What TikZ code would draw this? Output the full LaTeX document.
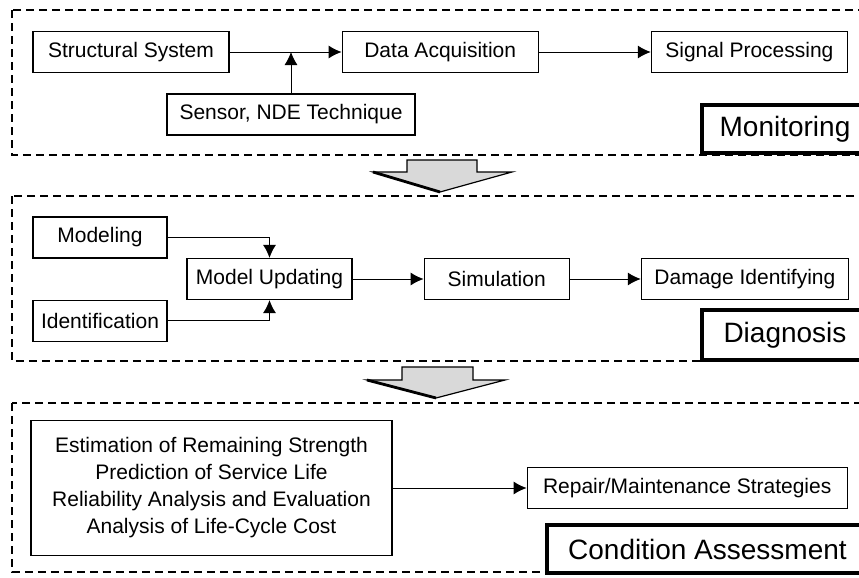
\documentclass[tikz,border=0pt]{standalone}
\usepackage{fontspec}
\setmainfont{Liberation Sans}
\usetikzlibrary{arrows.meta, positioning}

\begin{document}
\begin{tikzpicture}[
    x=0.5pt, y=-0.5pt,
    font=\fontsize{10.5}{13.5}\selectfont,
    box/.style={rectangle, draw, line width=0.6pt, inner sep=0pt, align=center, minimum height=20.5pt},
    stagebox/.style={rectangle, draw, line width=2pt, fill=white, inner sep=0pt, anchor=south west, minimum height=24pt, font=\fontsize{14}{16}\selectfont},
    frame/.style={draw, line width=0.9pt, dash pattern=on 4pt off 2.5pt},
    line/.style={draw, -{Latex[length=6.5pt,width=6.5pt]}, line width=0.5pt},
    bigarrow/.style={draw, line width=0.6pt, fill=black!15}
]
    \clip (0,0) rectangle (859,578);

    % Stage frames
    \path [frame] (12,10) rectangle (866,155);
    \path [frame] (12,196) rectangle (866,361);
    \path [frame] (12,403) rectangle (866,572);

    % Monitoring nodes
    \node [box, minimum width=98pt] (struct) at (131,52) {Structural System};
    \node [box, minimum width=98pt, right=56pt of struct] (acq) {Data Acquisition};
    \node [box, minimum width=98pt, right=56pt of acq] (signal) {Signal Processing};
    \node [box, minimum width=124pt] (sensor) at (291,114.5) {Sensor, NDE Technique};
    \coordinate (join) at (sensor |- struct);
    \node [stagebox, minimum width=83pt] (monitor) at (700,155) {Monitoring};

    % Diagnosis nodes
    \node [box, minimum width=67pt] (model) at (100,237.5) {Modeling};
    \node [box, minimum width=67pt, below=20.5pt of model] (ident) {Identification};
    \node [box, minimum width=82.5pt] (update) at (269.5,279) {Model Updating};
    \node [box, minimum width=72.5pt, right=35.5pt of update] (sim) {Simulation};
    \node [box, minimum width=103.5pt, right=35.5pt of sim] (damage) {Damage Identifying};
    \node [stagebox, minimum width=83pt, minimum height=25pt] (diag) at (700,362) {Diagnosis};

    % Condition assessment nodes
    \node [box, minimum width=180.5pt, minimum height=67.5pt] (assess) at (211.5,488) {Estimation of Remaining Strength\\Prediction of Service Life\\Reliability Analysis and Evaluation\\Analysis of Life-Cycle Cost};
    \node [box, minimum width=160pt, right=67pt of assess] (repair) {Repair/Maintenance Strategies};
    \node [stagebox, minimum width=160.5pt] (cond) at (545,575) {Condition Assessment};

    % Stage arrows
    \path [bigarrow] (407,160) -- (477,160) -- (477,172) -- (512,172) -- (440,192) -- (373,172) -- (407,172) -- cycle;
    \draw [line width=1.4pt] (373,172) -- (440,192);
    \path [bigarrow] (402,367) -- (473,367) -- (473,380) -- (505,380) -- (436,398) -- (367,380) -- (402,380) -- cycle;
    \draw [line width=1.4pt] (367,380) -- (436,398);

    % Connecting lines
    \path [line] (struct) -- (acq);
    \path [line] (sensor) -- (join);
    \path [line] (acq) -- (signal);
    \path [line] (model) -| (update);
    \path [line] (ident) -| (update);
    \path [line] (update) -- (sim);
    \path [line] (sim) -- (damage);
    \path [line] (assess) -- (repair);
\end{tikzpicture}
\end{document}
